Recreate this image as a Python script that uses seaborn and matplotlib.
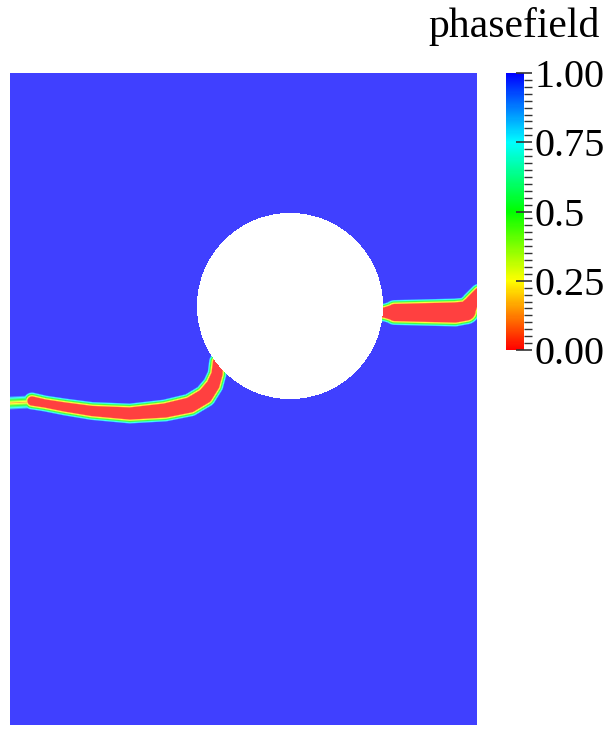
import numpy as np
import pandas as pd
import seaborn as sns
import matplotlib.pyplot as plt
from matplotlib.colors import LinearSegmentedColormap, Normalize
from matplotlib.colorbar import ColorbarBase
from matplotlib.ticker import MultipleLocator

# domain (pixel-sized cells) and hole
nx, ny = 467, 652
hole_x, hole_y, hole_r = 280, 233, 93

# crack centre lines (grid units), half width of the fully broken core,
# smallest phasefield value on the line and width of the diffuse zone
left_x = [0, 19, 21, 22, 35, 55, 82, 120, 155, 180, 195, 203, 207, 208]
left_y = [330, 329, 328.5, 328, 330.5, 334, 338, 340.5, 337.5, 332, 323, 312, 301, 289]
left_hw = [0, 0, 0, 4, 3.5, 4, 4.5, 5.5, 6.5, 7, 7, 6, 5, 4.5]
left_core = [0.15, 0.15, 0.15, 0, 0, 0, 0, 0, 0, 0, 0, 0, 0, 0]
left_tw = [7, 7, 7, 5, 5, 5, 5, 5, 5, 5, 5, 5, 5, 5]

right_x = [368, 374, 385, 445, 456, 462, 470]
right_y = [239.5, 239.5, 239.5, 239.5, 238, 229, 221]
right_hw = [3.5, 4.5, 8, 9.5, 9, 6, 6]
right_core = [0, 0, 0, 0, 0, 0, 0]
right_tw = [5, 5, 5, 5, 5, 5, 5]

cbar_ticks = [0, 0.25, 0.5, 0.75, 1.0]
cbar_labels = ['0.00', '0.25', '0.5', '0.75', '1.00']


def crack_field(X, Y, xs, ys, hw, core, tw):
    phi = np.ones_like(X)
    for i in range(len(xs) - 1):
        ax_, ay_ = xs[i], ys[i]
        bx, by = xs[i + 1], ys[i + 1]
        dx, dy = bx - ax_, by - ay_
        t = ((X - ax_) * dx + (Y - ay_) * dy) / (dx * dx + dy * dy)
        t = np.clip(t, 0, 1)
        d = np.hypot(X - (ax_ + t * dx), Y - (ay_ + t * dy))
        h = hw[i] + t * (hw[i + 1] - hw[i])
        c = core[i] + t * (core[i + 1] - core[i])
        w = tw[i] + t * (tw[i + 1] - tw[i])
        p = c + (1 - c) * np.clip((d - h) / w, 0, 1)
        phi = np.minimum(phi, p)
    return phi


X, Y = np.meshgrid(np.arange(nx) + 0.5, np.arange(ny) + 0.5)
phi = np.minimum(crack_field(X, Y, left_x, left_y, left_hw, left_core, left_tw),
                 crack_field(X, Y, right_x, right_y, right_hw, right_core, right_tw))
hole = (X - hole_x) ** 2 + (Y - hole_y) ** 2 < hole_r ** 2
df = pd.DataFrame(phi)

# rainbow: red (0) -> yellow -> green -> cyan -> blue (1)
nodes = [(1, 0, 0), (1, 1, 0), (0, 1, 0), (0, 1, 1), (0, 0, 1)]
rainbow = LinearSegmentedColormap.from_list('pf', nodes)
lit = [tuple(0.75 * v + 0.25 for v in c) for c in nodes]
rainbow_lit = LinearSegmentedColormap.from_list('pf_lit', lit)

fig = plt.figure(figsize=(6.1, 7.34), dpi=100)
ax = fig.add_axes([10 / 610, 9 / 734, 467 / 610, 652 / 734])
sns.heatmap(df, ax=ax, cmap=rainbow_lit, vmin=0, vmax=1, mask=hole,
            cbar=False, xticklabels=False, yticklabels=False, rasterized=True)
ax.tick_params(length=0)

cax = fig.add_axes([506 / 610, 384 / 734, 18 / 610, 277 / 734])
cb = ColorbarBase(cax, cmap=rainbow, norm=Normalize(0, 1), ticks=cbar_ticks)
cb.outline.set_visible(False)
cb.set_ticklabels(cbar_labels)
cax.yaxis.set_minor_locator(MultipleLocator(0.025))
cax.tick_params(which='major', direction='inout', length=11, width=1.2,
                color='#333333', pad=2, labelsize=29)
cax.tick_params(which='minor', direction='out', length=6, width=1.0, color='#333333')
for lab in cax.get_yticklabels():
    lab.set_fontfamily('Liberation Serif')

fig.text(600 / 610, 1 - 37 / 734, 'phasefield', ha='right', va='baseline',
         fontsize=30, family='Liberation Serif')

fig.savefig('out.png', dpi=100)
